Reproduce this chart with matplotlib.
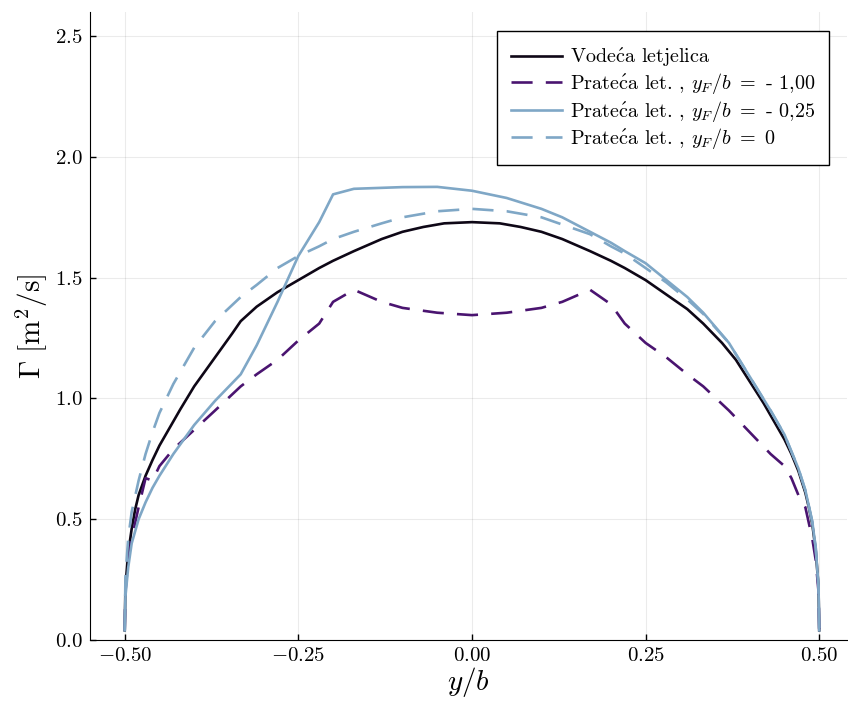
import numpy as np
import matplotlib
matplotlib.use("Agg")
import matplotlib.pyplot as plt
from matplotlib.ticker import FuncFormatter

plt.rcParams['font.family'] = 'serif'
plt.rcParams['font.serif'] = ['cmr10']
plt.rcParams['mathtext.fontset'] = 'cm'
plt.rcParams['axes.formatter.use_mathtext'] = True

# spanwise stations y/b (leading aircraft)
y_lead = [-0.5, -0.499, -0.495, -0.49, -0.485, -0.48, -0.47, -0.46, -0.45, -0.44, -0.42,
          -0.40, -0.38, -0.36, -0.345, -0.333, -0.31, -0.28, -0.25, -0.22, -0.2, -0.17,
          -0.13, -0.1, -0.07, -0.04, 0.0, 0.04, 0.07, 0.1, 0.13, 0.17, 0.2, 0.22, 0.25,
          0.28, 0.31, 0.333, 0.36, 0.38, 0.40, 0.42, 0.44, 0.45, 0.46, 0.47, 0.48,
          0.485, 0.49, 0.495, 0.499, 0.5]
gamma_lead = [0.04, 0.22, 0.36, 0.46, 0.54, 0.60, 0.68, 0.745, 0.805, 0.855, 0.955,
              1.05, 1.13, 1.21, 1.27, 1.32, 1.38, 1.44, 1.49, 1.54, 1.57, 1.61,
              1.66, 1.69, 1.71, 1.725, 1.73, 1.725, 1.71, 1.69, 1.66, 1.61, 1.57, 1.54, 1.49,
              1.43, 1.37, 1.31, 1.23, 1.16, 1.07, 0.98, 0.88, 0.83, 0.77, 0.70, 0.61,
              0.55, 0.48, 0.37, 0.22, 0.04]

# spanwise stations y/b (following aircraft)
y_b = [-0.5, -0.499, -0.495, -0.49, -0.48, -0.47, -0.46, -0.45, -0.43, -0.40, -0.37,
       -0.333, -0.31, -0.28, -0.25, -0.22, -0.2, -0.17, -0.13, -0.1, -0.05, 0.0,
       0.05, 0.1, 0.13, 0.17, 0.2, 0.22, 0.25, 0.28, 0.31, 0.333, 0.37, 0.40,
       0.43, 0.45, 0.46, 0.47, 0.48, 0.49, 0.495, 0.499, 0.5]

# circulation [m^2/s]
gamma_f100 = [0.04, 0.20, 0.33, 0.42, 0.55, 0.67, 0.66, 0.72, 0.79, 0.87, 0.95,
              1.05, 1.10, 1.16, 1.24, 1.31, 1.40, 1.45, 1.40, 1.375, 1.355, 1.345,
              1.355, 1.375, 1.40, 1.45, 1.39, 1.31, 1.23, 1.17, 1.10, 1.05, 0.95, 0.86,
              0.77, 0.72, 0.67, 0.60, 0.55, 0.42, 0.33, 0.20, 0.04]
gamma_f025 = [0.04, 0.18, 0.30, 0.40, 0.50, 0.57, 0.63, 0.68, 0.77, 0.89, 0.99,
              1.10, 1.22, 1.40, 1.59, 1.73, 1.845, 1.868, 1.872, 1.875, 1.876, 1.86,
              1.83, 1.785, 1.75, 1.69, 1.645, 1.61, 1.56, 1.49, 1.42, 1.355, 1.23, 1.09,
              0.95, 0.85, 0.78, 0.71, 0.62, 0.49, 0.38, 0.22, 0.04]
gamma_f0 = [0.04, 0.26, 0.42, 0.53, 0.66, 0.77, 0.86, 0.94, 1.06, 1.21, 1.32,
            1.42, 1.47, 1.54, 1.59, 1.63, 1.66, 1.69, 1.725, 1.75, 1.775, 1.785,
            1.775, 1.75, 1.72, 1.68, 1.63, 1.60, 1.54, 1.48, 1.41, 1.35, 1.23, 1.09,
            0.95, 0.85, 0.78, 0.71, 0.62, 0.49, 0.38, 0.22, 0.04]

labels = [r"Vode$\acute{\mathrm{c}}$a letjelica",
          r"Prate$\acute{\mathrm{c}}$a let. , $y_F/b\ =$ - 1,00",
          r"Prate$\acute{\mathrm{c}}$a let. , $y_F/b\ =$ - 0,25",
          r"Prate$\acute{\mathrm{c}}$a let. , $y_F/b\ =\ 0$"]

fig = plt.figure(figsize=(8.48, 7.04), dpi=100)
ax = fig.add_axes([90/848, 64/704, 757/848, 628/704])

lw = 1.9
dash = (8, 5)
ax.plot(y_lead, gamma_lead, color='#0e0716', lw=lw, label=labels[0])
ax.plot(y_b, gamma_f100, color='#4a1470', lw=lw, dashes=dash, label=labels[1])
ax.plot(y_b, gamma_f025, color='#7fa7c6', lw=lw, label=labels[2])
ax.plot(y_b, gamma_f0, color='#7fa7c6', lw=lw, dashes=dash, label=labels[3])

ax.set_xlim(-0.55, 0.54)
ax.set_ylim(0, 2.6)
ax.set_xticks([-0.5, -0.25, 0, 0.25, 0.5])
ax.set_yticks([0, 0.5, 1.0, 1.5, 2.0, 2.5])
ax.xaxis.set_major_formatter(FuncFormatter(lambda v, p: f"${v:.2f}$"))
ax.yaxis.set_major_formatter(FuncFormatter(lambda v, p: f"${v:.1f}$"))
ax.tick_params(direction='in', length=4, width=1, labelsize=15, pad=5)
ax.grid(True, color='black', alpha=0.08, lw=0.8)
ax.spines['top'].set_visible(False)
ax.spines['right'].set_visible(False)
ax.set_xlabel(r"$y/b$", fontsize=21, labelpad=0)
ax.set_ylabel(r"$\Gamma\ [\mathrm{m}^2/\mathrm{s}]$", fontsize=21, labelpad=4)

leg = ax.legend(loc='upper right', bbox_to_anchor=(0.99, 0.985), fontsize=14.5,
                frameon=True, fancybox=False, edgecolor='black', framealpha=1,
                handlelength=2.5, borderpad=0.7, labelspacing=0.12, handletextpad=0.4)
leg.get_frame().set_linewidth(1)

fig.savefig("out.png", dpi=100)
